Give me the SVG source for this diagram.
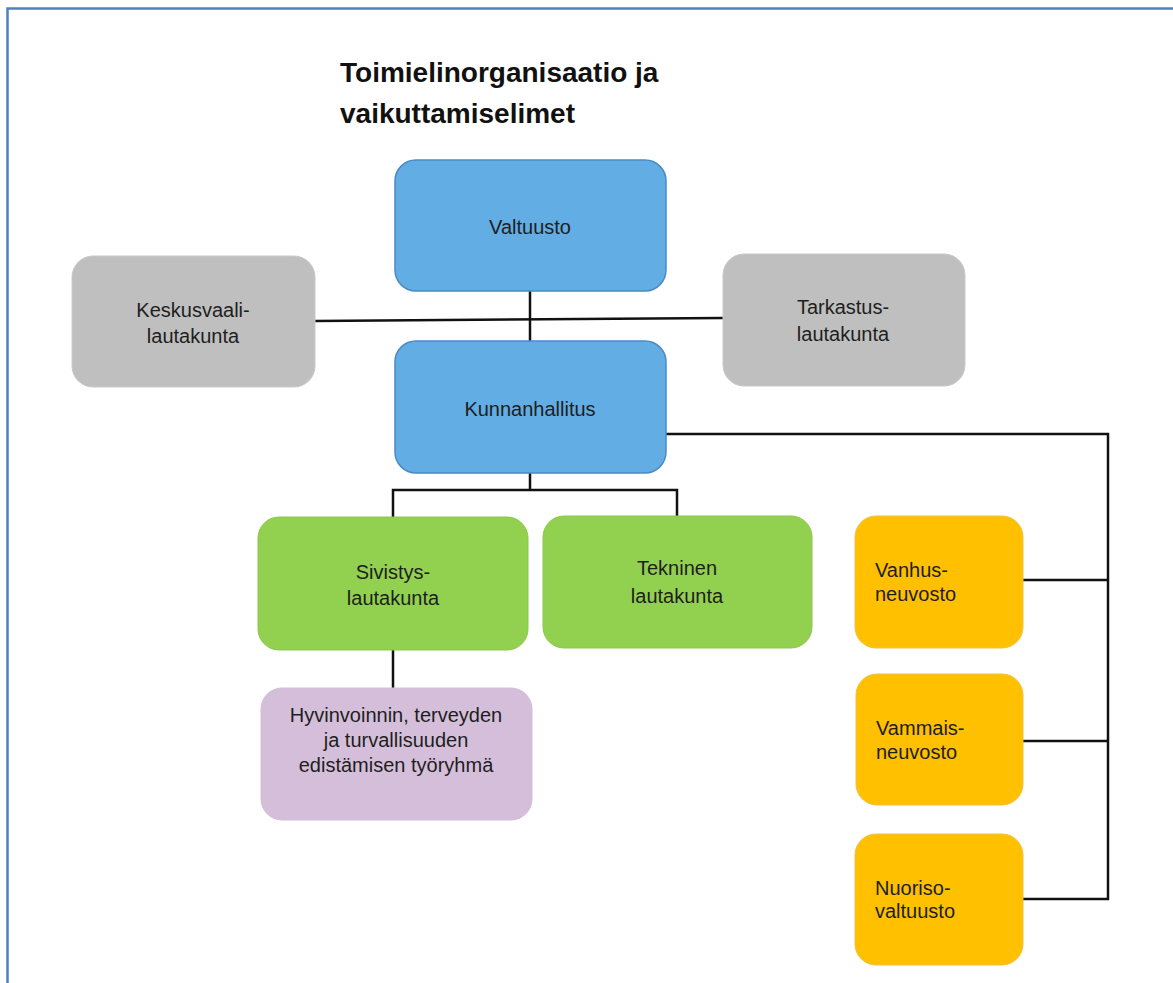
<svg xmlns="http://www.w3.org/2000/svg" width="1173" height="983" viewBox="0 0 1173 983">
<style>
.frame{fill:none;stroke:#4F81BD;stroke-width:2.5}
.title{font-family:"Liberation Sans",Arial,sans-serif;font-weight:bold;font-size:28px;fill:#111}
.lbl{font-family:"Liberation Sans",Arial,sans-serif;font-size:20px;fill:#1e1e1e}
.c{text-anchor:middle}
.blue{fill:#62ADE3;stroke:#4A8AC6;stroke-width:1.5}
.grey{fill:#BFBFBF;stroke:#C9C9C9;stroke-width:1}
.green{fill:#92D050;stroke:#8CC84A;stroke-width:1}
.purple{fill:#D5BEDA;stroke:#D0C0D5;stroke-width:1}
.orange{fill:#FFC000;stroke:#F2C040;stroke-width:1}
.conn line,.conn polyline{stroke:#111;stroke-width:2.5;fill:none}
</style>
<rect width="1173" height="983" fill="#fff"/>
<path class="frame" d="M7.5 990 V8.5 H1180"/>
<g id="title">
<text class="title" x="340" y="82">Toimielinorganisaatio ja</text>
<text class="title" x="340" y="123">vaikuttamiselimet</text>
</g>
<g class="conn" id="connectors">
<line x1="530" y1="291" x2="530" y2="341"/>
<line x1="315" y1="321" x2="723" y2="318"/>
<polyline points="666,434 1108,434 1108,899 1023,899"/>
<line x1="1023" y1="580" x2="1108" y2="580"/>
<line x1="1023" y1="741" x2="1108" y2="741"/>
<line x1="530" y1="473" x2="530" y2="490"/>
<polyline points="393,517 393,490 677,490 677,516"/>
<line x1="393" y1="650" x2="393" y2="688"/>
</g>
<g id="valtuusto">
<rect class="blue" x="395" y="160" width="271" height="131" rx="21"/>
<text class="lbl c" x="530" y="234">Valtuusto</text>
</g>
<g id="kunnanhallitus">
<rect class="blue" x="395" y="341" width="271" height="132" rx="21"/>
<text class="lbl c" x="530" y="416">Kunnanhallitus</text>
</g>
<g id="keskusvaalilautakunta">
<rect class="grey" x="72" y="256" width="243" height="131" rx="21"/>
<text class="lbl c" x="193" y="317">Keskusvaali-</text>
<text class="lbl c" x="193" y="343">lautakunta</text>
</g>
<g id="tarkastuslautakunta">
<rect class="grey" x="723" y="254" width="242" height="132" rx="21"/>
<text class="lbl c" x="843" y="314">Tarkastus-</text>
<text class="lbl c" x="843" y="341">lautakunta</text>
</g>
<g id="sivistyslautakunta">
<rect class="green" x="258" y="517" width="270" height="133" rx="21"/>
<text class="lbl c" x="393" y="579">Sivistys-</text>
<text class="lbl c" x="393" y="605">lautakunta</text>
</g>
<g id="tekninenlautakunta">
<rect class="green" x="543" y="516" width="269" height="132" rx="21"/>
<text class="lbl c" x="677" y="575">Tekninen</text>
<text class="lbl c" x="677" y="603">lautakunta</text>
</g>
<g id="tyoryhma">
<rect class="purple" x="261" y="688" width="271" height="132" rx="21"/>
<text class="lbl c" x="396" y="722">Hyvinvoinnin, terveyden</text>
<text class="lbl c" x="396" y="747">ja turvallisuuden</text>
<text class="lbl c" x="396" y="772">edistämisen työryhmä</text>
</g>
<g id="vanhusneuvosto">
<rect class="orange" x="855" y="516" width="168" height="132" rx="21"/>
<text class="lbl" x="875" y="577">Vanhus-</text>
<text class="lbl" x="875" y="601">neuvosto</text>
</g>
<g id="vammaisneuvosto">
<rect class="orange" x="856" y="674" width="167" height="131" rx="21"/>
<text class="lbl" x="876" y="735">Vammais-</text>
<text class="lbl" x="876" y="759">neuvosto</text>
</g>
<g id="nuorisovaltuusto">
<rect class="orange" x="855" y="834" width="168" height="131" rx="21"/>
<text class="lbl" x="875" y="895">Nuoriso-</text>
<text class="lbl" x="875" y="918">valtuusto</text>
</g>
</svg>
